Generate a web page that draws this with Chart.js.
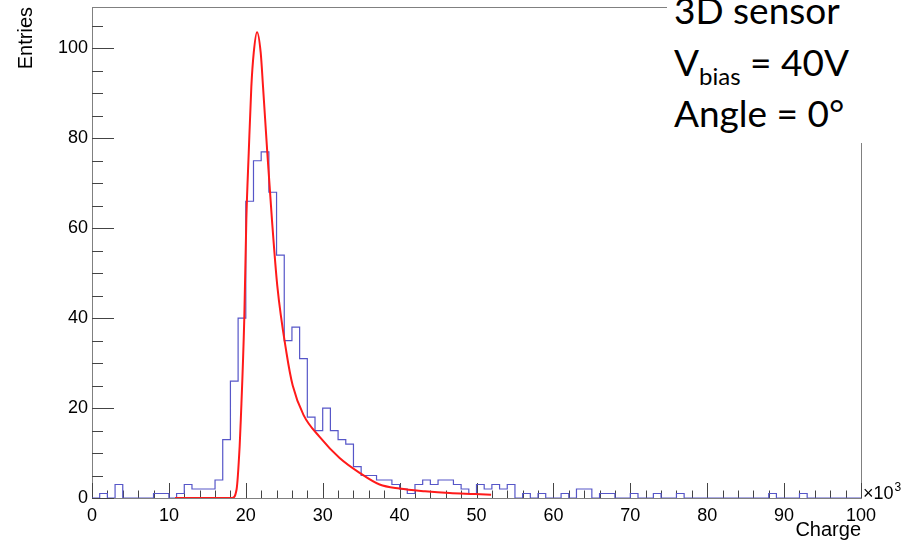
<!DOCTYPE html>
<html>
<head>
<meta charset="utf-8">
<title>Charge spectrum</title>
<script src="https://cdn.jsdelivr.net/npm/chart.js@4.4.1/dist/chart.umd.min.js"></script>
<style>
	html, body { margin: 0; padding: 0; background: #fff; }
	#wrap { position: relative; width: 922px; height: 544px; overflow: hidden; }
	#mycanvas { position: absolute; left: 0; top: 0; }
	#label { position: absolute; left: 667px; top: 0; width: 255px; height: 143px; background: #fff;
		font-family: Lato, "Open Sans", sans-serif; font-size: 37px; color: #000; }
	#label div { position: absolute; left: 7px; white-space: nowrap; line-height: 51px; }
	#label sub { font-size: 24px; vertical-align: -9px; line-height: 0; }
</style>
</head>
<body>
<div id="wrap">
	<canvas id="mycanvas" width="922" height="544"></canvas>
	<div id="label">
		<div style="top:-16px">3D sensor</div>
		<div style="top:36px">V<sub>bias</sub> = 40V</div>
		<div style="top:87px">Angle = 0°</div>
	</div>
</div>
<script>
// histogram: 100 bins of width 1 (x10^3), counts per bin starting at 0
var binWidth = 1;
var counts = [
	0, 1, 0, 3, 0, 0, 0, 0, 1, 1,
	0, 1, 3, 2, 2, 2, 4, 13, 26, 40,
	66, 75, 77, 68, 54, 35, 38, 31, 18, 15,
	20, 15, 13, 12, 7, 5, 5, 4, 4, 3,
	2, 1, 3, 4, 3, 4, 4, 3, 2, 1,
	3, 2, 3, 2, 3, 0, 1, 0, 1, 0,
	0, 1, 0, 2, 2, 0, 1, 1, 0, 0,
	1, 0, 0, 1, 0, 0, 1, 0, 0, 0,
	0, 0, 0, 0, 0, 0, 0, 0, 1, 0,
	0, 0, 1, 0, 0, 0, 0, 0, 0, 0
];

// fit curve
var fitCharge  = [10.8, 18.2, 18.8, 19.2, 19.35, 19.8, 20.07, 20.38, 20.72, 21.03, 21.46, 21.94, 22.24, 22.8, 23.4, 24.1, 25.3, 26.1, 27.5, 29.6, 32.2, 34.8, 37.4, 40.0, 43.3, 46.5, 49.8, 51.9];
var fitEntries = [0, 0, 1.9, 11.5, 17.4, 39.7, 61.9, 76.7, 91.5, 99.0, 103.6, 99.0, 91.5, 76.7, 61.9, 47.1, 32.2, 25.0, 18.5, 13.6, 8.9, 5.6, 3.0, 2.1, 1.5, 1.1, 0.9, 0.75];

var xTicks = [0, 10, 20, 30, 40, 50, 60, 70, 80, 90, 100];
var yTicks = [0, 20, 40, 60, 80, 100];

var histPoints = [];
for (var i = 0; i < counts.length; i++) {
	histPoints.push({x: i * binWidth, y: counts[i]});
}
histPoints.push({x: counts.length * binWidth, y: counts[counts.length - 1]});

var fitPoints = [];
for (var j = 0; j < fitCharge.length; j++) {
	fitPoints.push({x: fitCharge[j], y: fitEntries[j]});
}

var axisFont = {family: 'Liberation Sans', size: 18};
var titleFont = {family: 'Liberation Sans', size: 20};

// frame, inward tick marks and the x10^3 exponent
var rootAxes = {
	id: 'rootAxes',
	beforeDatasetsDraw: function(chart) {
		var ctx = chart.ctx;
		var a = chart.chartArea;
		var xs = chart.scales.x, ys = chart.scales.y;
		ctx.save();
		ctx.strokeStyle = '#808080';
		ctx.lineWidth = 1;
		ctx.strokeRect(a.left + 0.5, a.top + 0.5, a.right - a.left, a.bottom - a.top);

		ctx.strokeStyle = '#444';
		ctx.beginPath();
		for (var v = 0; v <= 100; v += 2) {
			var px = Math.round(xs.getPixelForValue(v)) + 0.5;
			var len = (v % 10 === 0) ? 15 : 7.5;
			ctx.moveTo(px, a.bottom);
			ctx.lineTo(px, a.bottom - len);
		}
		for (var w = 0; w <= 105; w += 5) {
			var py = Math.round(ys.getPixelForValue(w)) + 0.5;
			var l2 = (w % 20 === 0) ? 22 : 11;
			ctx.moveTo(a.left, py);
			ctx.lineTo(a.left + l2, py);
		}
		ctx.stroke();
		ctx.restore();
	},
	afterDraw: function(chart) {
		var ctx = chart.ctx;
		var a = chart.chartArea;
		ctx.save();
		ctx.fillStyle = '#000';
		ctx.textBaseline = 'alphabetic';
		ctx.font = '18px "Liberation Sans"';
		ctx.fillText('\u00d710', a.right + 2, a.bottom + 1);
		var wd = ctx.measureText('\u00d710').width;
		ctx.font = '12px "Liberation Sans"';
		ctx.fillText('3', a.right + 3 + wd, a.bottom - 7);
		ctx.restore();
	}
};

var ctx = document.getElementById('mycanvas');

var chart = new Chart(ctx, {
	type: 'line',
	data: {
		datasets: [
			{
				label: 'Fit',
				data: fitPoints,
				borderColor: '#ff1a1a',
				borderWidth: 2,
				pointRadius: 0,
				cubicInterpolationMode: 'monotone',
				fill: false
			},
			{
				label: 'Charge',
				data: histPoints,
				borderColor: '#5656c8',
				borderWidth: 1.2,
				pointRadius: 0,
				stepped: 'before',
				fill: false
			}
		]
	},
	options: {
		responsive: false,
		animation: false,
		events: [],
		layout: {padding: {left: 0, top: 7, right: 61, bottom: 0}},
		plugins: {
			legend: {display: false},
			tooltip: {enabled: false}
		},
		scales: {
			x: {
				type: 'linear',
				min: 0,
				max: 100,
				grid: {display: false, drawTicks: false},
				border: {display: false},
				ticks: {font: axisFont, color: '#000', padding: 7, maxRotation: 0, autoSkip: false},
				title: {display: true, text: 'Charge', align: 'end', font: titleFont, color: '#000', padding: {top: 0, bottom: 2}},
				afterBuildTicks: function(scale) {
					scale.ticks = xTicks.map(function(v) { return {value: v}; });
				},
				afterFit: function(scale) {
					scale.height = 46;
					scale.paddingLeft = 0;
					scale.paddingRight = 0;
				}
			},
			y: {
				type: 'linear',
				min: 0,
				max: 109.2,
				grid: {display: false, drawTicks: false},
				border: {display: false},
				ticks: {font: axisFont, color: '#000', padding: 4},
				title: {display: true, text: 'Entries', align: 'end', font: titleFont, color: '#000', padding: {top: 14, bottom: 0}},
				afterBuildTicks: function(scale) {
					scale.ticks = yTicks.map(function(v) { return {value: v}; });
				},
				afterFit: function(scale) {
					scale.width = 92;
					scale.paddingTop = 0;
					scale.paddingBottom = 0;
				}
			}
		}
	},
	plugins: [rootAxes]
});
</script>
</body>
</html>
